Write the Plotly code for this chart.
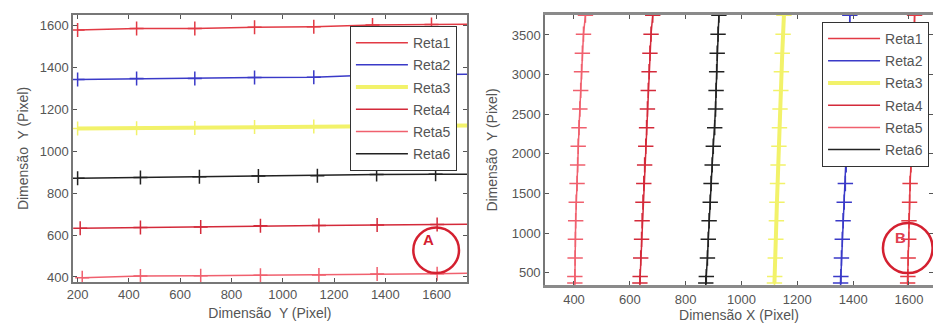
import plotly.graph_objects as go

# ---------------- data: panel A (horizontal lines) ----------------
names = ["Reta1", "Reta2", "Reta3", "Reta4", "Reta5", "Reta6"]
colors = ["#e23a44", "#3a3ac8", "#f2f26a", "#d42a3a", "#f0606e", "#222222"]
widths = [1.5, 1.5, 4, 1.5, 1.5, 1.5]

xA_top = [200, 430, 657, 890, 1121, 1350, 1580, 1760]
xA_black = [200, 445, 675, 905, 1135, 1366, 1596, 1760]
xA_red4 = [210, 445, 680, 913, 1141, 1368, 1602, 1760]
xA_red5 = [218, 445, 680, 913, 1141, 1368, 1602, 1760]

yA_reta1 = [1576, 1584, 1584, 1590, 1592, 1600, 1603, 1605]
yA_reta2 = [1341, 1345, 1346, 1350, 1351, 1362, 1364, 1366]
yA_reta3 = [1107, 1109, 1110, 1115, 1117, 1119, 1121, 1122]
yA_reta4 = [632, 636, 638, 644, 645, 648, 650, 652]
yA_reta5 = [396, 405, 406, 408, 409, 414, 416, 418]
yA_reta6 = [870, 874, 878, 881, 882, 888, 889, 890]

# ---------------- data: panel B (vertical lines) ----------------
yB = [370, 450, 685, 920, 1155, 1390, 1625, 1860, 2095, 2330, 2565, 2800, 3035, 3270, 3510, 3750]
xB_reta1 = [1595, 1596, 1597, 1599, 1600, 1602, 1604, 1607, 1609, 1611, 1612, 1614, 1615, 1617, 1618, 1620]
xB_reta2 = [1355, 1356, 1358, 1361, 1364, 1368, 1372, 1375, 1377, 1379, 1381, 1382, 1383, 1385, 1386, 1388]
xB_reta3 = [1118, 1119, 1121, 1123, 1125, 1127, 1129, 1131, 1134, 1136, 1138, 1141, 1143, 1146, 1149, 1152]
xB_reta4 = [636, 637, 639, 642, 644, 647, 650, 653, 657, 660, 663, 666, 669, 672, 676, 682]
xB_reta5 = [403, 403, 404, 405, 406, 408, 411, 413, 415, 418, 421, 424, 427, 430, 434, 441]
xB_reta6 = [872, 874, 878, 881, 884, 888, 891, 895, 899, 904, 907, 909, 911, 913, 916, 919]

A_series = [(xA_top, yA_reta1), (xA_top, yA_reta2), (xA_top, yA_reta3),
            (xA_red4, yA_reta4), (xA_red5, yA_reta5), (xA_black, yA_reta6)]
B_series = [xB_reta1, xB_reta2, xB_reta3, xB_reta4, xB_reta5, xB_reta6]

FONT = "Liberation Sans, Arial, sans-serif"
TXT = "#555555"

fig = go.Figure()


def add_line(xs, ys, i, xa, ya, leg, grp, msize):
    # legend entry shows the line only; markers drawn by a second trace
    fig.add_trace(go.Scatter(
        x=xs, y=ys, name=names[i], mode="lines", legendgroup=grp,
        line=dict(color=colors[i], width=widths[i]),
        xaxis=xa, yaxis=ya, legend=leg))
    fig.add_trace(go.Scatter(
        x=xs, y=ys, name=names[i], mode="markers", legendgroup=grp, showlegend=False,
        marker=dict(symbol="cross-thin", size=msize, color=colors[i],
                    line=dict(color=colors[i], width=1.5)),
        xaxis=xa, yaxis=ya, legend=leg))


for i in range(len(names)):
    xs, ys = A_series[i]
    add_line(xs, ys, i, "x", "y", "legend", "A" + names[i], 10)
for i in range(len(names)):
    add_line(B_series[i], yB, i, "x2", "y2", "legend2", "B" + names[i], 11)

ax_common = dict(ticks="inside", ticklen=4, tickcolor="#555", mirror="allticks",
                 showline=True, showgrid=False, zeroline=False, automargin=False,
                 tickfont=dict(family=FONT, size=13, color=TXT),
                 title_font=dict(family=FONT, size=14, color=TXT))

# plot area: x 73..933, y 15..285 (px)
fig.update_layout(
    width=933, height=325,
    margin=dict(l=73, r=0, t=15, b=40, autoexpand=False),
    paper_bgcolor="white", plot_bgcolor="white",
    font=dict(family=FONT, color=TXT),
    xaxis=dict(domain=[0.0, 0.458], range=[182, 1718],
               tickvals=[200, 400, 600, 800, 1000, 1200, 1400, 1600],
               ticklabelstandoff=0,
               title=dict(text="Dimensão  Y (Pixel)", standoff=7),
               linewidth=1.5, linecolor="#777", anchor="y", **ax_common),
    yaxis=dict(domain=[0.011, 1.0], range=[376, 1648],
               tickvals=[400, 600, 800, 1000, 1200, 1400, 1600],
               title=dict(text="Dimensão  Y (Pixel)", standoff=8),
               linewidth=1.5, linecolor="#777", anchor="x", **ax_common),
    xaxis2=dict(domain=[0.5488, 1.0], range=[296, 1686],
                tickvals=[400, 600, 800, 1000, 1200, 1400, 1600],
                ticklabelstandoff=0,
                title=dict(text="Dimensão X (Pixel)", standoff=5),
                linewidth=3, linecolor="#8a8a8a", anchor="y2", **ax_common),
    yaxis2=dict(domain=[0.0, 1.0], range=[344, 3752],
                tickvals=[500, 1000, 1500, 2000, 2500, 3000, 3500],
                title=dict(text="Dimensão  Y (Pixel)", standoff=11),
                linewidth=1.5, linecolor="#777", anchor="x2", **ax_common),
    legend=dict(x=0.322, y=0.959, xanchor="left", yanchor="top",
                bgcolor="white", bordercolor="#333", borderwidth=1,
                traceorder="grouped", tracegroupgap=1, entrywidth=60, itemwidth=52,
                font=dict(family=FONT, size=14, color=TXT)),
    legend2=dict(x=0.871, y=0.974, xanchor="left", yanchor="top",
                 bgcolor="white", bordercolor="#333", borderwidth=1,
                 traceorder="grouped", tracegroupgap=1, entrywidth=60, itemwidth=52,
                 font=dict(family=FONT, size=14, color=TXT)),
    showlegend=True,
)

# red circled labels
fig.add_shape(type="circle", xref="x domain", yref="y domain",
              x0=0.922 - 0.058, x1=0.922 + 0.058, y0=0.119 - 0.085, y1=0.119 + 0.085,
              line=dict(color="#d42030", width=2.5))
fig.add_annotation(xref="x domain", yref="y domain", x=0.922, y=0.119, text="<b>A</b>",
                   showarrow=False, font=dict(family=FONT, size=15, color="#d42030"))
fig.add_shape(type="circle", xref="x2 domain", yref="y2 domain",
              x0=0.935 - 0.064, x1=0.935 + 0.064, y0=0.137 - 0.093, y1=0.137 + 0.093,
              line=dict(color="#d42030", width=2.5))
fig.add_annotation(xref="x2 domain", yref="y2 domain", x=0.935, y=0.137, text="<b>B</b>",
                   showarrow=False, font=dict(family=FONT, size=15, color="#e04050"))

fig.write_html("out.html", config={"displayModeBar": False},
               post_script="document.body.style.margin='0';")
